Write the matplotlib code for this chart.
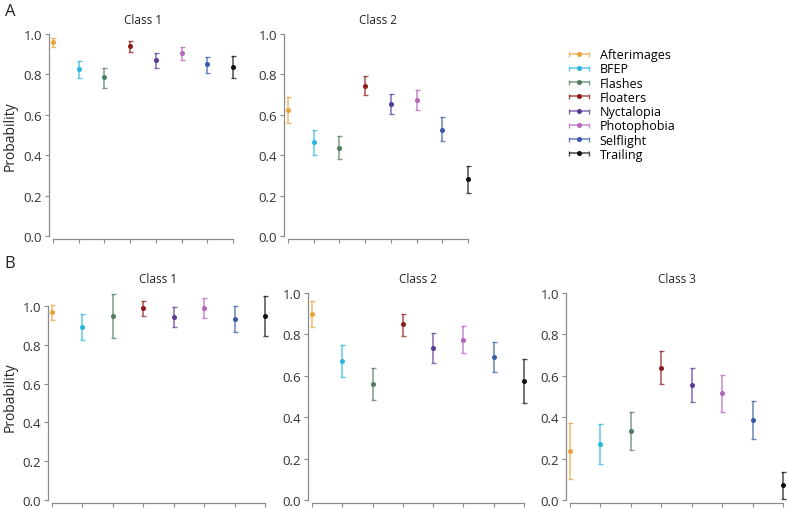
import numpy as np
import matplotlib.pyplot as plt
from matplotlib.colors import to_rgba
from matplotlib.legend_handler import HandlerErrorbar

plt.rcParams['font.family'] = ['Open Sans', 'DejaVu Sans']

# symptoms and their colours
symptoms = ['Afterimages', 'BFEP', 'Flashes', 'Floaters', 'Nyctalopia',
            'Photophobia', 'Selflight', 'Trailing']
colors = ['#E8A33A', '#2AB6E2', '#4F7E5E', '#8E1B1B', '#5A3A94',
          '#B565BA', '#3A5AA8', '#111111']

# panel A (2 classes): estimate, lower, upper
a1_est = [0.960, 0.825, 0.785, 0.940, 0.870, 0.906, 0.850, 0.838]
a1_lo = [0.937, 0.781, 0.731, 0.912, 0.832, 0.870, 0.809, 0.784]
a1_hi = [0.980, 0.865, 0.833, 0.965, 0.906, 0.937, 0.888, 0.889]

a2_est = [0.622, 0.464, 0.436, 0.745, 0.655, 0.675, 0.527, 0.280]
a2_lo = [0.561, 0.401, 0.380, 0.697, 0.604, 0.625, 0.469, 0.212]
a2_hi = [0.687, 0.527, 0.493, 0.794, 0.703, 0.725, 0.587, 0.348]

# panel B (3 classes)
b1_est = [0.967, 0.894, 0.950, 0.988, 0.943, 0.991, 0.935, 0.949]
b1_lo = [0.930, 0.825, 0.837, 0.947, 0.892, 0.938, 0.868, 0.847]
b1_hi = [1.007, 0.961, 1.062, 1.027, 0.995, 1.043, 1.000, 1.050]

b2_est = [0.898, 0.671, 0.561, 0.848, 0.735, 0.774, 0.690, 0.574]
b2_lo = [0.835, 0.594, 0.484, 0.794, 0.663, 0.710, 0.618, 0.468]
b2_hi = [0.960, 0.748, 0.639, 0.900, 0.806, 0.840, 0.763, 0.681]

b3_est = [0.237, 0.269, 0.332, 0.639, 0.556, 0.516, 0.387, 0.071]
b3_lo = [0.100, 0.173, 0.240, 0.558, 0.473, 0.426, 0.297, 0.006]
b3_hi = [0.374, 0.366, 0.424, 0.719, 0.640, 0.603, 0.477, 0.134]

W, H = 787, 510
fig = plt.figure(figsize=(W / 100, H / 100), dpi=100)

def px_axes(left, top, right, bottom):
    return fig.add_axes([left / W, 1 - bottom / H, (right - left) / W, (bottom - top) / H])

spine_col = '#8a8a8a'
eb_style = dict(fmt='o', elinewidth=1.1, capsize=1.8, capthick=1.0, markersize=2.6)

def draw_panel(ax, est, lo, hi, title, ytop=1.0, ylabel=True, lab_x=-0.2):
    x = np.arange(len(symptoms))
    for i in range(len(symptoms)):
        yerr = [[est[i] - lo[i]], [hi[i] - est[i]]]
        ax.errorbar(x[i], est[i], yerr=yerr, color=colors[i],
                    ecolor=to_rgba(colors[i], 0.75), clip_on=False, **eb_style)
    ax.set_xlim(-0.02, 7.02)
    ax.set_ylim(0, ytop)
    ax.set_xticks(x)
    ax.set_xticklabels([])
    ax.set_yticks(np.arange(0, 1.01, 0.2))
    ax.set_yticklabels(['%.1f' % v for v in np.arange(0, 1.01, 0.2)])
    ax.spines['top'].set_visible(False)
    ax.spines['right'].set_visible(False)
    for s in ['left', 'bottom']:
        ax.spines[s].set_position(('outward', 2.5))
        ax.spines[s].set_color(spine_col)
        ax.spines[s].set_linewidth(0.9)
    ax.spines['left'].set_bounds(0, 1)
    ax.spines['bottom'].set_bounds(0, 7)
    ax.tick_params(length=3, width=0.8, color=spine_col, labelsize=9.5,
                   labelcolor='#333333', pad=2)
    ax.set_title(title, fontsize=8.5, pad=8, color='#222222')
    if ylabel:
        ax.set_ylabel('Probability', fontsize=10, color='#222222')
        ax.yaxis.set_label_coords(lab_x, 0.5)

ax_a1 = px_axes(52.5, 35, 233.5, 237)
ax_a2 = px_axes(287.5, 35, 468.5, 237)
ax_b1 = px_axes(51.4, 294, 265.6, 501)
ax_b2 = px_axes(311.4, 294, 524.6, 501)
ax_b3 = px_axes(569.4, 294, 783.6, 501)

draw_panel(ax_a1, a1_est, a1_lo, a1_hi, 'Class 1', lab_x=-0.19)
draw_panel(ax_a2, a2_est, a2_lo, a2_hi, 'Class 2', ylabel=False)
draw_panel(ax_b1, b1_est, b1_lo, b1_hi, 'Class 1', ytop=1.067, lab_x=-0.158)
draw_panel(ax_b2, b2_est, b2_lo, b2_hi, 'Class 2', ylabel=False)
draw_panel(ax_b3, b3_est, b3_lo, b3_hi, 'Class 3', ylabel=False)

# legend handles: horizontal error bars (NaN data, so nothing shows in the axes)
handles = []
for i in range(len(symptoms)):
    h = ax_a2.errorbar([np.nan], [np.nan], xerr=[[0.1]], color=colors[i],
                       ecolor=to_rgba(colors[i], 0.75), label=symptoms[i], **eb_style)
    handles.append(h)
fig.legend(handles, symptoms, loc='upper left', bbox_to_anchor=(568 / W, 1 - 49 / H),
           frameon=False, fontsize=9, borderpad=0, borderaxespad=0,
           handlelength=1.7, handletextpad=0.85, labelspacing=0.1,
           handler_map={type(handles[0]): HandlerErrorbar(xerr_size=0.8)})

fig.text(10 / W, 1 - 12 / H, 'A', fontsize=12, ha='center', va='center', color='#222222')
fig.text(10 / W, 1 - 264 / H, 'B', fontsize=12, ha='center', va='center', color='#222222')

plt.savefig('out.png', dpi=100)
